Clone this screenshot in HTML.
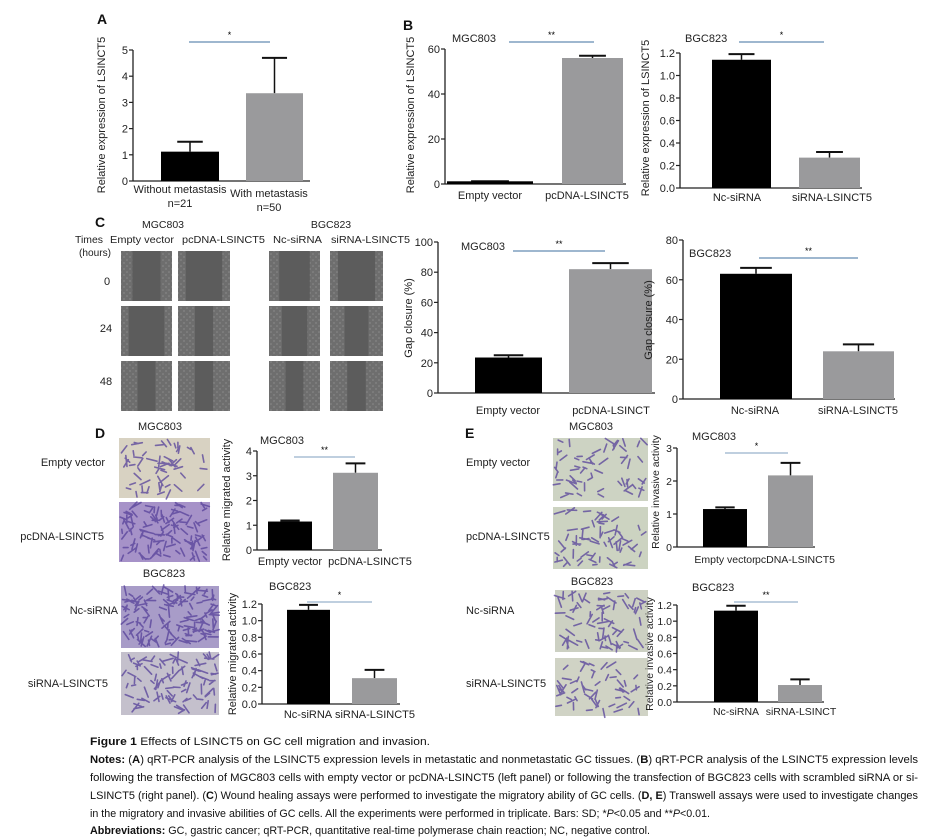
<!DOCTYPE html>
<html><head><meta charset="utf-8"><title>Figure 1</title>
<style>
html,body{margin:0;padding:0;background:#fff;}
svg{display:block;font-family:"Liberation Sans",sans-serif;}
.tick{font-size:11px;fill:#222;}
.lab{font-size:11px;fill:#222;}
.sm{font-size:10.5px;fill:#222;}
.pl{font-size:14px;font-weight:bold;fill:#111;}
.cap{font-size:11px;fill:#111;}
</style></head><body>
<svg id="fig" width="927" height="837" viewBox="0 0 927 837" xmlns="http://www.w3.org/2000/svg">
<defs>
<pattern id="wound" width="6" height="6" patternUnits="userSpaceOnUse">
<rect width="6" height="6" fill="#6e6e6e"/><circle cx="1" cy="2" r="0.8" fill="#8a8a8a"/><circle cx="4" cy="5" r="0.7" fill="#909090"/>
</pattern>
</defs>
<g id="static"></g>
<g id="charts"></g>
<g id="caption">
<text class="cap" x="90" y="745" textLength="340" lengthAdjust="spacingAndGlyphs"><tspan font-weight="bold">Figure 1</tspan> Effects of LSINCT5 on GC cell migration and invasion.</text>
<text class="cap" x="90" y="763" textLength="828" lengthAdjust="spacingAndGlyphs"><tspan font-weight="bold">Notes:</tspan> (<tspan font-weight="bold">A</tspan>) qRT-PCR analysis of the LSINCT5 expression levels in metastatic and nonmetastatic GC tissues. (<tspan font-weight="bold">B</tspan>) qRT-PCR analysis of the LSINCT5 expression levels</text>
<text class="cap" x="90" y="781" textLength="828" lengthAdjust="spacingAndGlyphs">following the transfection of MGC803 cells with empty vector or pcDNA-LSINCT5 (left panel) or following the transfection of BGC823 cells with scrambled siRNA or si-</text>
<text class="cap" x="90" y="799" textLength="828" lengthAdjust="spacingAndGlyphs">LSINCT5 (right panel). (<tspan font-weight="bold">C</tspan>) Wound healing assays were performed to investigate the migratory ability of GC cells. (<tspan font-weight="bold">D, E</tspan>) Transwell assays were used to investigate changes</text>
<text class="cap" x="90" y="817" textLength="620" lengthAdjust="spacingAndGlyphs">in the migratory and invasive abilities of GC cells. All the experiments were performed in triplicate. Bars: SD; *<tspan font-style="italic">P</tspan>&lt;0.05 and **<tspan font-style="italic">P</tspan>&lt;0.01.</text>
<text class="cap" x="90" y="834" textLength="560" lengthAdjust="spacingAndGlyphs"><tspan font-weight="bold">Abbreviations:</tspan> GC, gastric cancer; qRT-PCR, quantitative real-time polymerase chain reaction; NC, negative control.</text>
</g>
</svg>
<script>
// ---- Chart data ----
const catsA = ["Without metastasis", "With metastasis"];
const valsA = [1.12, 3.35];
const errsA = [1.5, 4.7];
const ticksA = [0, 1, 2, 3, 4, 5];

const catsB1 = ["Empty vector", "pcDNA-LSINCT5"];
const valsB1 = [1.2, 56];
const errsB1 = [1.2, 57];
const ticksB1 = [0, 20, 40, 60];

const catsB2 = ["Nc-siRNA", "siRNA-LSINCT5"];
const valsB2 = [1.14, 0.27];
const errsB2 = [1.19, 0.32];
const ticksB2 = [0, 0.2, 0.4, 0.6, 0.8, 1.0, 1.2];

const catsC1 = ["Empty vector", "pcDNA-LSINCT"];
const valsC1 = [23.5, 82];
const errsC1 = [25, 86];
const ticksC1 = [0, 20, 40, 60, 80, 100];

const catsC2 = ["Nc-siRNA", "siRNA-LSINCT5"];
const valsC2 = [63, 24];
const errsC2 = [66, 27.5];
const ticksC2 = [0, 20, 40, 60, 80];

const catsD1 = ["Empty vector", "pcDNA-LSINCT5"];
const valsD1 = [1.15, 3.12];
const errsD1 = [1.19, 3.5];
const ticksD1 = [0, 1, 2, 3, 4];

const catsD2 = ["Nc-siRNA", "siRNA-LSINCT5"];
const valsD2 = [1.13, 0.31];
const errsD2 = [1.19, 0.41];
const ticksD2 = [0, 0.2, 0.4, 0.6, 0.8, 1.0, 1.2];

const catsE1 = ["Empty vector", "pcDNA-LSINCT5"];
const valsE1 = [1.15, 2.17];
const errsE1 = [1.2, 2.55];
const ticksE1 = [0, 1, 2, 3];

const catsE2 = ["Nc-siRNA", "siRNA-LSINCT"];
const valsE2 = [1.13, 0.21];
const errsE2 = [1.19, 0.28];
const ticksE2 = [0, 0.2, 0.4, 0.6, 0.8, 1.0, 1.2];

const NS = "http://www.w3.org/2000/svg";
function mk(tag, attrs, parent, txt) {
  const e = document.createElementNS(NS, tag);
  for (const k in attrs) e.setAttribute(k, attrs[k]);
  if (txt !== undefined) e.textContent = txt;
  parent.appendChild(e);
  return e;
}

function drawChart(id, cfg, cats, vals, errs, ticks) {
  const g = mk("g", {}, document.getElementById("charts"));
  
  
  const ymax = ticks[ticks.length - 1], ymin = ticks[0];
  const yS = v => cfg.yb - (v - ymin) / (ymax - ymin) * (cfg.yb - cfg.yt);
  const fs = cfg.fs || 11;
  const ax = mk("line", {x1: cfg.ax, x2: cfg.ax, y1: yS(ymax), y2: cfg.yb, stroke: "#222", "stroke-width": 1.3}, g);
  
  
  const xa = mk("line", {x1: cfg.ax, x2: cfg.xe, y1: cfg.yb, y2: cfg.yb, stroke: "#222", "stroke-width": 1.3}, g);
  
  
  ticks.forEach(t => {
    const y = yS(t);
    mk("line", {x1: cfg.ax - 4, x2: cfg.ax, y1: y, y2: y, stroke: "#222", "stroke-width": 1.2}, g);
    const lbl = mk("text", {x: cfg.ax - 5, y: y + 4, "text-anchor": "end", class: "tick", style: "font-size:" + fs + "px"}, g, cfg.dec ? t.toFixed(1) : String(t));
    
    
  });
  const colors = ["#000", "#9a9a9c"];
  cats.forEach((c, i) => {
    const [x1, x2] = cfg.bars[i];
    const y = yS(vals[i]), ye = yS(errs[i]);
    const cx = (x1 + x2) / 2, hw = (x2 - x1) * 0.22;
    const el = mk("line", {x1: cx, x2: cx, y1: y, y2: ye, stroke: "#111", "stroke-width": 1.5}, g);
    
    
    mk("line", {x1: cx - hw, x2: cx + hw, y1: ye, y2: ye, stroke: "#111", "stroke-width": 2}, g);
    const b = mk("rect", {x: x1, y: y, width: x2 - x1, height: cfg.yb - y, fill: colors[i]}, g);
    
    
    const lines = c.split("\n");
    lines.forEach((ln, j) => {
      const tl = mk("text", {x: cfg.lx[i], y: cfg.ly + j * 14 + (cfg.lyo ? cfg.lyo[i] : 0), "text-anchor": "middle", class: "lab", style: "font-size:" + fs + "px"}, g, ln);
      
      
    });
  });
  const s = mk("line", {x1: cfg.sig[0], x2: cfg.sig[1], y1: cfg.sig[2], y2: cfg.sig[2], stroke: "#7f9fbf", "stroke-width": cfg.sigw || 1.6}, g);
  
  
  const st = mk("text", {x: (cfg.sig[0] + cfg.sig[1]) / 2, y: cfg.sig[2] - 4, "text-anchor": "middle", style: "font-size:9px"}, g, cfg.star);
  
  
  if (cfg.title) {
    const tt = mk("text", {x: cfg.title[0], y: cfg.title[1], class: "lab"}, g, cfg.title[2]);
    
    
  }
  const yl = mk("text", {x: 0, y: 0, transform: `translate(${cfg.ylx},${cfg.yly}) rotate(-90)`, "text-anchor": "middle", class: "lab", style: "font-size:" + (cfg.ylfs || 11) + "px"}, g, cfg.ylabel);
  
  
}

drawChart("chart-a", {ax: 133, yt: 50, yb: 181, xe: 310, bars: [[161, 219], [246, 303]], lx: [180, 269], ly: 193, lyo: [0, 4], sig: [189, 270, 42], star: "*", ylx: 105, yly: 115, ylabel: "Relative expression of LSINCT5"}, ["Without metastasis\nn=21", "With metastasis\nn=50"], valsA, errsA, ticksA);
drawChart("chart-b-mgc803", {ax: 445, yt: 49, yb: 184, xe: 626, bars: [[447, 533], [562, 623]], lx: [490, 587], ly: 199, sig: [509, 594, 42], star: "**", title: [452, 42, "MGC803"], ylx: 414, yly: 115, ylabel: "Relative expression of LSINCT5"}, catsB1, valsB1, errsB1, ticksB1);
drawChart("chart-b-bgc823", {ax: 680, yt: 53, yb: 188, xe: 862, dec: true, bars: [[712, 771], [799, 860]], lx: [737, 832], ly: 201, sig: [739, 824, 42], star: "*", title: [685, 42, "BGC823"], ylx: 649, yly: 118, ylabel: "Relative expression of LSINCT5"}, catsB2, valsB2, errsB2, ticksB2);
drawChart("chart-c-mgc803", {ax: 438, yt: 242, yb: 393, xe: 655, bars: [[475, 542], [569, 652]], lx: [508, 611], ly: 414, sig: [513, 605, 251], star: "**", title: [461, 250, "MGC803"], ylx: 412, yly: 318, ylabel: "Gap closure (%)"}, catsC1, valsC1, errsC1, ticksC1);
drawChart("chart-c-bgc823", {ax: 683, yt: 240, yb: 399, xe: 895, bars: [[720, 792], [823, 894]], lx: [755, 858], ly: 414, sig: [759, 858, 258], star: "**", title: [689, 257, "BGC823"], ylx: 652, yly: 320, ylabel: "Gap closure (%)"}, catsC2, valsC2, errsC2, ticksC2);
drawChart("chart-d-mgc803", {ax: 257, yt: 451, yb: 550, xe: 382, bars: [[268, 312], [333, 378]], lx: [290, 370], ly: 565, sig: [294, 355, 457], star: "**", sigw: 1, title: [260, 444, "MGC803"], ylx: 230, yly: 500, ylabel: "Relative migrated activity"}, catsD1, valsD1, errsD1, ticksD1);
drawChart("chart-d-bgc823", {ax: 262, yt: 604, yb: 704, xe: 400, dec: true, bars: [[287, 330], [352, 397]], lx: [308, 375], ly: 718, sig: [307, 372, 602], star: "*", sigw: 1, title: [269, 590, "BGC823"], ylx: 236, yly: 654, ylabel: "Relative migrated activity"}, catsD2, valsD2, errsD2, ticksD2);
drawChart("chart-e-mgc803", {ax: 677, yt: 448, yb: 547, xe: 815, fs: 10.5, bars: [[703, 747], [768, 813]], lx: [725, 795], ly: 563, sig: [725, 788, 453], star: "*", sigw: 1, title: [692, 440, "MGC803"], ylx: 659, yly: 492, ylfs: 10.5, ylabel: "Relative invasive activity"}, catsE1, valsE1, errsE1, ticksE1);
drawChart("chart-e-bgc823", {ax: 677, yt: 605, yb: 702, xe: 824, fs: 10.5, dec: true, bars: [[714, 758], [778, 822]], lx: [736, 801], ly: 715, sig: [734, 798, 602], star: "**", sigw: 1, title: [692, 591, "BGC823"], ylx: 653, yly: 654, ylfs: 10.5, ylabel: "Relative invasive activity"}, catsE2, valsE2, errsE2, ticksE2);

// ---- static panels ----
const S = document.getElementById("static");
function txt(x, y, s, cls, name, anchor, tl) {
  const a = {x: x, y: y, class: cls, "text-anchor": anchor || "start"};
  if (tl) { a.textLength = tl; a.lengthAdjust = "spacingAndGlyphs"; }
  const t = mk("text", a, S, s);
  
  
}
txt(97, 24, "A", "pl", "panel-label-a");
txt(403, 30, "B", "pl", "panel-label-b");
txt(95, 227, "C", "pl", "panel-label-c");
txt(95, 438, "D", "pl", "panel-label-d");
txt(465, 438, "E", "pl", "panel-label-e");

let seed = 7;
function rnd() { seed = (seed * 9301 + 49297) % 233280; return seed / 233280; }
function wound(x, y, w, h, gap, name) {
  const g = mk("g", {}, S);
  
  
  mk("rect", {x: x, y: y, width: w, height: h, fill: "url(#wound)"}, g);
  const gw = w * gap, gx = x + (w - gw) / 2;
  mk("rect", {x: gx, y: y, width: gw, height: h, fill: "#5c5c5c"}, g);
}
const wgaps = [[0.55, 0.7, 0.35], [0.7, 0.35, 0.35], [0.6, 0.5, 0.35], [0.7, 0.45, 0.35]];
const wcols = [[121, 51], [178, 52], [269, 51], [330, 53]];
const wrows = [[251, 50], [306, 50], [361, 50]];
wcols.forEach((c, ci) => wrows.forEach((r, ri) => wound(c[0], r[0], c[1], r[1], wgaps[ci][ri], "wound-image")));
txt(163, 228, "MGC803", "sm", "group-title-mgc803", "middle");
txt(331, 228, "BGC823", "sm", "group-title-bgc823", "middle");
txt(75, 243, "Times", "sm", "times-label", "start", 28);
txt(79, 256, "(hours)", "sm", "hours-label", "start", 32);
txt(110, 243, "Empty vector", "sm", "col-label", "start", 64);
txt(182, 243, "pcDNA-LSINCT5", "sm", "col-label", "start", 83);
txt(273, 243, "Nc-siRNA", "sm", "col-label", "start", 49);
txt(331, 243, "siRNA-LSINCT5", "sm", "col-label", "start", 79);
txt(107, 285, "0", "lab", "row-label-0", "middle");
txt(106, 332, "24", "lab", "row-label-24", "middle");
txt(106, 385, "48", "lab", "row-label-48", "middle");

function transwell(x, y, w, h, bg, dens, name) {
  const g = mk("g", {}, S);
  
  
  mk("rect", {x: x, y: y, width: w, height: h, fill: bg}, g);
  const n = Math.round(w * h * dens / 80);
  let d = "";
  for (let i = 0; i < n; i++) {
    const px = x + rnd() * (w - 6) + 3, py = y + rnd() * (h - 6) + 3;
    const a = rnd() * Math.PI, l = 2 + rnd() * 3.5;
    d += `M${(px - Math.cos(a) * l).toFixed(1)} ${(py - Math.sin(a) * l).toFixed(1)}L${(px + Math.cos(a) * l).toFixed(1)} ${(py + Math.sin(a) * l).toFixed(1)}`;
  }
  mk("path", {d: d, stroke: "#55409a", "stroke-width": 1.6, "stroke-linecap": "round", fill: "none", opacity: 0.75}, g);
}
transwell(119, 438, 91, 60, "#d8d2c2", 0.8, "transwell-d-empty-vector");
transwell(119, 502, 91, 60, "#a692c8", 1.6, "transwell-d-pcdna");
transwell(121, 586, 98, 62, "#a89cc8", 1.8, "transwell-d-nc-sirna");
transwell(121, 652, 98, 63, "#c4c0cc", 1.2, "transwell-d-sirna");
transwell(553, 438, 95, 63, "#cdd3c3", 0.8, "transwell-e-empty-vector");
transwell(553, 507, 95, 62, "#ccd3c1", 0.9, "transwell-e-pcdna");
transwell(555, 590, 93, 62, "#ccd0c2", 1.0, "transwell-e-nc-sirna");
transwell(555, 658, 93, 58, "#d0d3c5", 0.8, "transwell-e-sirna");
txt(160, 430, "MGC803", "lab", "d-title-mgc803", "middle");
txt(164, 577, "BGC823", "lab", "d-title-bgc823", "middle");
txt(105, 466, "Empty vector", "lab", "d-row-label", "end");
txt(104, 540, "pcDNA-LSINCT5", "lab", "d-row-label", "end");
txt(118, 614, "Nc-siRNA", "lab", "d-row-label", "end");
txt(108, 687, "siRNA-LSINCT5", "lab", "d-row-label", "end");
txt(591, 430, "MGC803", "lab", "e-title-mgc803", "middle");
txt(592, 585, "BGC823", "lab", "e-title-bgc823", "middle");
txt(466, 466, "Empty vector", "lab", "e-row-label");
txt(466, 540, "pcDNA-LSINCT5", "lab", "e-row-label");
txt(466, 614, "Nc-siRNA", "lab", "e-row-label");
txt(466, 687, "siRNA-LSINCT5", "lab", "e-row-label");
</script>
</body></html>
